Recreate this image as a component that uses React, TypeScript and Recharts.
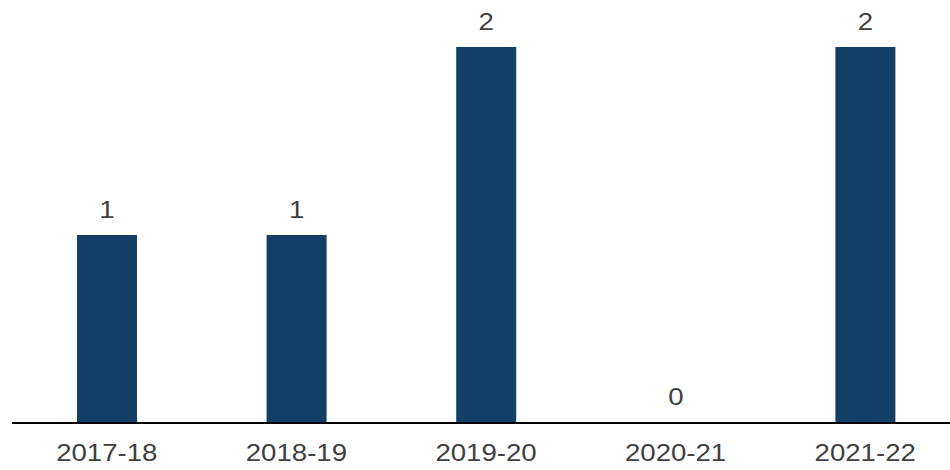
import { BarChart, Bar, XAxis, YAxis, LabelList } from 'recharts';

const years = ['2017-18', '2018-19', '2019-20', '2020-21', '2021-22'];
const counts = [1, 1, 2, 0, 2];

const data = years.map((year, i) => ({ year, count: counts[i] }));

const font = '"Liberation Sans", Arial, sans-serif';
const textColor = '#404040';

// text in the reference is a bit wider than Arial, so stretch it horizontally
function WideText({ x, y, children }: { x: number; y: number; children: any }) {
  return (
    <text
      transform={`translate(${x},${y}) scale(1.2,1)`}
      textAnchor="middle"
      fill={textColor}
      fontSize={23}
      fontFamily={font}
    >
      {children}
    </text>
  );
}

const YearTick = (props: any) => {
  const { x, y, payload } = props;
  return <WideText x={x} y={y + 38}>{payload.value}</WideText>;
};

const ValueLabel = (props: any) => {
  const { x, y, width, value } = props;
  return <WideText x={Number(x) + Number(width) / 2} y={Number(y) - 17}>{value}</WideText>;
};

export default function App() {
  return (
    <div style={{ position: 'fixed', left: 0, top: 0, width: 950, height: 470, overflow: 'hidden', background: '#fff' }}>
      <BarChart
        width={962}
        height={470}
        data={data}
        margin={{ top: 47, right: 2, bottom: 17, left: 12 }}
        barCategoryGap={0}
      >
        <XAxis
          dataKey="year"
          height={30}
          axisLine={{ stroke: '#000', strokeWidth: 2 }}
          tickLine={false}
          tickSize={0}
          tickMargin={0}
          interval={0}
          tick={<YearTick />}
        />
        <YAxis hide domain={[0, 2]} />
        <Bar dataKey="count" fill="#133f66" barSize={60} minPointSize={1} isAnimationActive={false}>
          <LabelList dataKey="count" content={<ValueLabel />} />
        </Bar>
      </BarChart>
    </div>
  );
}
